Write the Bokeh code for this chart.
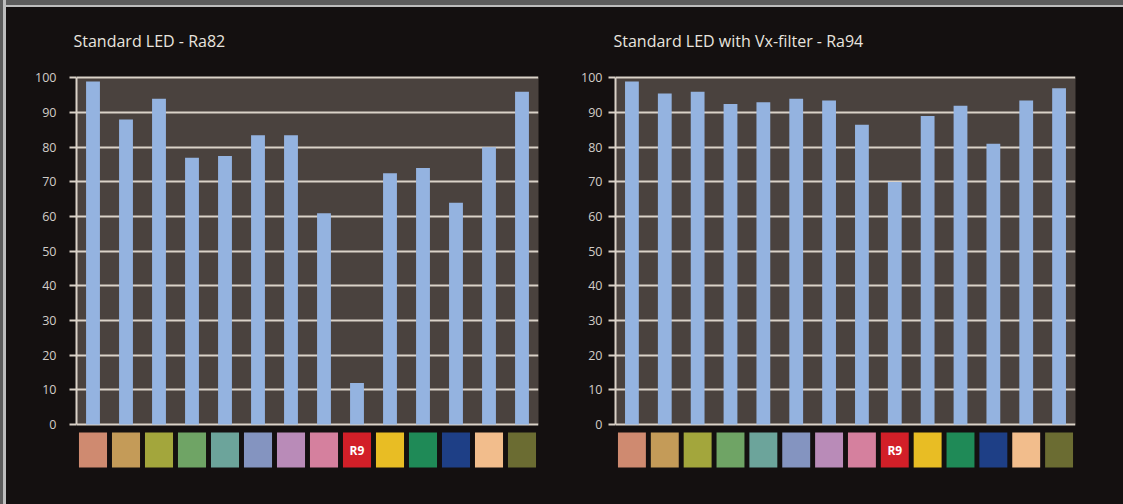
from bokeh.plotting import figure
from bokeh.models import FactorRange, Range1d, FixedTicker, ColumnDataSource
from bokeh.layouts import row
from bokeh.core.properties import value
from bokeh.embed import file_html
from bokeh.resources import INLINE

# ---------------- data ----------------
categories = ["R1", "R2", "R3", "R4", "R5", "R6", "R7",
              "R8", "R9", "R10", "R11", "R12", "R13", "R14"]
swatch_colors = ["#cf8a70", "#c49b58", "#a3a63c", "#6fa465", "#6ca49b", "#8494c0", "#b98bb8",
                 "#d5809e", "#d21f28", "#e8bd24", "#1f8a57", "#1e3f86", "#f2bd8c", "#6b6c32"]
swatch_labels = ["", "", "", "", "", "", "", "", "R9", "", "", "", "", ""]
standard_led = [99, 88, 94, 77, 77.5, 83.5, 83.5, 61, 12, 72.5, 74, 64, 80, 96]
vx_filter = [99, 95.5, 96, 92.5, 93, 94, 93.5, 86.5, 70, 89, 92, 81, 93.5, 97]
y_ticks = [0, 10, 20, 30, 40, 50, 60, 70, 80, 90, 100]

titles = ["Standard LED - Ra82", "Standard LED with Vx-filter - Ra94"]

PAGE_BG = "#141010"
PLOT_BG = "#4a423e"
BAR = "#94b3e0"
GRID = "#dad2c8"
TXT = "#d2cdc8"
FONT = "Open Sans"


def make_chart(title, values, width, b_left, b_right, standoff, t_offset):
    p = figure(width=width, height=504,
               x_range=FactorRange(*categories, range_padding=0),
               y_range=Range1d(-13.83, 101),
               output_backend="svg", toolbar_location=None,
               min_border_left=b_left, min_border_right=b_right,
               min_border_top=74, min_border_bottom=32,
               background_fill_color=PAGE_BG, border_fill_color=PAGE_BG,
               outline_line_color=None)
    p.title.text = title
    p.title.text_color = "#e8e4df"
    p.title.text_font = FONT
    p.title.text_font_size = "16px"
    p.title.text_font_style = "normal"
    p.title.standoff = 45
    p.title.offset = t_offset

    p.xaxis.visible = False
    p.xgrid.visible = False
    p.ygrid.visible = False
    p.yaxis.ticker = FixedTicker(ticks=y_ticks)
    p.yaxis.bounds = (0, 100)
    p.yaxis.axis_line_color = GRID
    p.yaxis.axis_line_width = 2
    p.yaxis.major_tick_line_color = GRID
    p.yaxis.major_tick_line_width = 2
    p.yaxis.major_tick_out = 7
    p.yaxis.major_tick_in = 0
    p.yaxis.minor_tick_line_color = None
    p.yaxis.major_label_text_color = TXT
    p.yaxis.major_label_text_font = FONT
    p.yaxis.major_label_text_font_size = "12.5px"
    p.yaxis.major_label_standoff = standoff

    # plot area panel (0..100) and horizontal grid lines
    p.quad(left=-1, right=len(categories) + 1, bottom=0, top=100,
           fill_color=PLOT_BG, line_color=None)
    p.hspan(y=y_ticks, line_color=GRID, line_width=2)

    src = ColumnDataSource(dict(cat=categories, val=values,
                                col=swatch_colors, lab=swatch_labels))
    p.vbar(x="cat", top="val", bottom=0, width=0.42, source=src,
           fill_color=BAR, line_color=None)
    p.vbar(x="cat", top=-2.3, bottom=-12.4, width=0.85, source=src,
           fill_color="col", line_color=None)
    p.text(x="cat", y=-7.35, text="lab", source=src, text_color="white",
           text_font=value(FONT), text_font_size="12px", text_font_style="bold",
           text_align="center", text_baseline="middle")
    return p


p1 = make_chart(titles[0], standard_led, 566, 76, 28, 13, -3)
p2 = make_chart(titles[1], vx_filter, 557, 49, 48, 6, -2)
layout = row(p1, p2)

css = ("<style>html,body{background:#141010;}"
       "body::before{content:'';position:fixed;left:0;top:0;right:0;height:5px;"
       "background:#5c5c5c;border-bottom:2px solid #bdbdbd;z-index:10;}"
       "body::after{content:'';position:fixed;left:0;top:0;bottom:0;width:3px;"
       "background:#5c5c5c;border-right:3px solid #bdbdbd;z-index:10;}</style>")
html = file_html(layout, INLINE)
html = html.replace("<head>", "<head>" + css, 1)
open("out.html", "w").write(html)
